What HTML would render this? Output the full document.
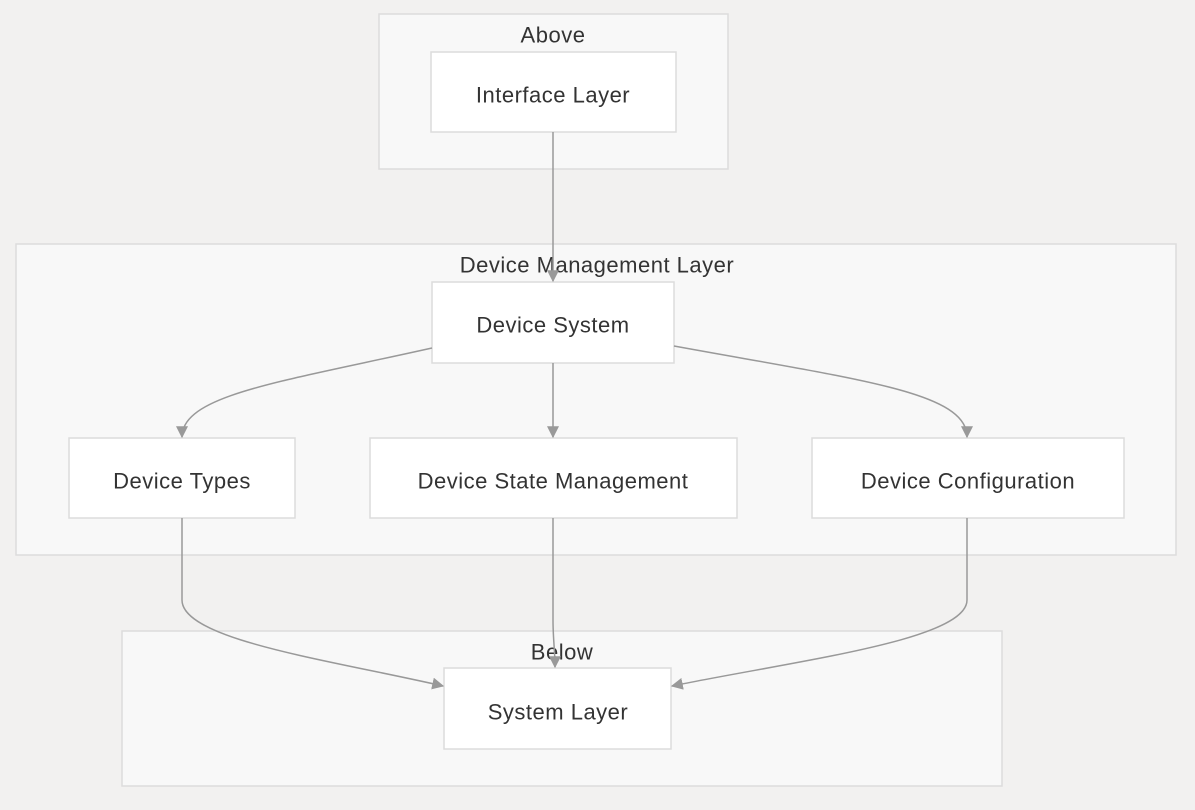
<!DOCTYPE html>
<html><head><meta charset="utf-8"><style>
html,body{margin:0;padding:0;background:#f2f1f0;}
svg{display:block;font-family:"Liberation Sans",sans-serif;}
text{fill:#333;font-size:22px;letter-spacing:0.5px;text-anchor:middle;dominant-baseline:central;}
.c{fill:#f8f8f8;stroke:#dcdcdc;stroke-width:1.5}
.n{fill:#fff;stroke:#dcdcdc;stroke-width:1.5}
.e{fill:none;stroke:#999;stroke-width:1.5;marker-end:url(#a)}
</style></head><body>
<svg width="1195" height="810" viewBox="0 0 1195 810">
<defs><marker id="a" viewBox="0 0 10 10" refX="9" refY="5" markerWidth="8" markerHeight="8" orient="auto"><path d="M0,0L10,5L0,10z" fill="#999"/></marker></defs>
<rect x="0" y="0" width="1195" height="810" fill="#f2f1f0"/>
<rect class="c" x="379" y="14" width="349" height="155"/>
<text x="553" y="35">Above</text>
<rect class="c" x="16" y="244" width="1160" height="311"/>
<text x="597" y="265">Device Management Layer</text>
<rect class="c" x="122" y="631" width="880" height="155"/>
<text x="562" y="652">Below</text>

<rect class="n" x="431" y="52" width="245" height="80"/>
<text x="553" y="95">Interface Layer</text>
<rect class="n" x="432" y="282" width="242" height="81"/>
<text x="553" y="325">Device System</text>
<rect class="n" x="69" y="438" width="226" height="80"/>
<text x="182" y="481">Device Types</text>
<rect class="n" x="370" y="438" width="367" height="80"/>
<text x="553" y="481">Device State Management</text>
<rect class="n" x="812" y="438" width="312" height="80"/>
<text x="968" y="481">Device Configuration</text>
<rect class="n" x="444" y="668" width="227" height="81"/>
<text x="558" y="712">System Layer</text>

<path class="e" d="M553,132 L553,281"/>
<path class="e" d="M432,348 C280,382 182,395 182,437"/>
<path class="e" d="M553,363 L553,437"/>
<path class="e" d="M674,346 C860,380 967,392 967,437"/>
<path class="e" d="M182,518 L182,600 C182,640 330,660 443,686"/>
<path class="e" d="M553,518 L553,620 C553,640 555,650 555,667"/>
<path class="e" d="M967,518 L967,600 C967,640 800,660 672,686"/>
</svg>
</body></html>
